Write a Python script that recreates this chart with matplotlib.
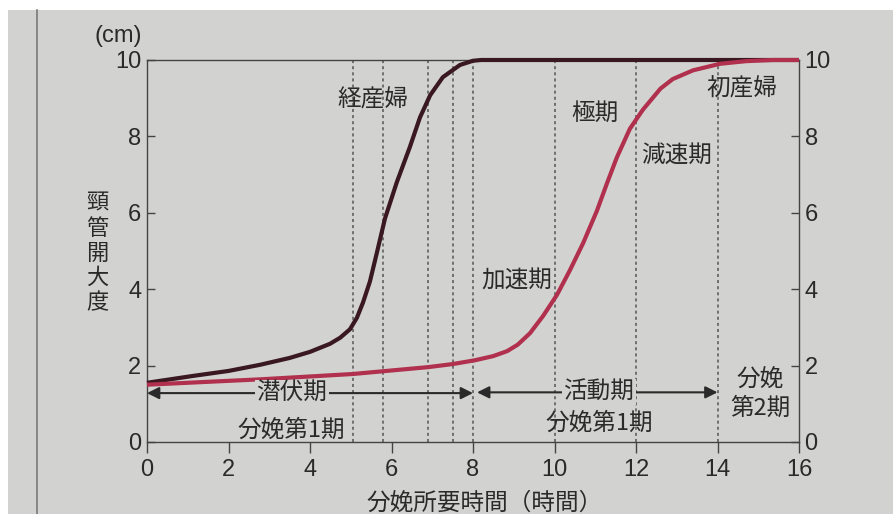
import numpy as np
import matplotlib
matplotlib.use("Agg")
import matplotlib.pyplot as plt
from matplotlib.patches import Rectangle
from matplotlib.lines import Line2D

plt.rcParams['font.family'] = ['Liberation Sans', 'Noto Sans CJK JP', 'DejaVu Sans']
JP = ['Noto Sans CJK JP', 'DejaVu Sans']

# 経産婦 (multipara) cervical dilatation curve
multi_t = [0, 1.13, 2.0, 2.77, 3.5, 4.0, 4.49, 4.74, 4.98, 5.15, 5.3, 5.47, 5.64,
           5.84, 6.13, 6.45, 6.7, 6.95, 7.26, 7.68, 8.0, 8.2, 16]
multi_cm = [1.55, 1.73, 1.86, 2.02, 2.2, 2.36, 2.57, 2.73, 2.95, 3.25, 3.65, 4.2, 4.95,
            5.85, 6.8, 7.72, 8.5, 9.08, 9.55, 9.87, 9.98, 10.0, 10.0]

# 初産婦 (primipara)
primi_t = [0, 2.77, 5.05, 6.9, 7.5, 8.05, 8.5, 8.84, 9.1, 9.4, 9.72, 10.06, 10.38,
           10.7, 11.04, 11.28, 11.53, 11.85, 12.17, 12.6, 12.9, 13.4, 14.06, 14.7,
           15.36, 16]
primi_cm = [1.5, 1.64, 1.78, 1.96, 2.04, 2.14, 2.25, 2.38, 2.55, 2.85, 3.3, 3.85, 4.5,
            5.2, 6.05, 6.75, 7.45, 8.2, 8.7, 9.25, 9.5, 9.73, 9.9, 9.97, 10.0, 10.0]

# phase boundaries (dotted verticals)
phase_lines = [5.05, 5.8, 6.9, 7.5, 8.0, 10.0, 12.0, 14.0]

xticks = list(range(0, 17, 2))
yticks = list(range(0, 11, 2))

paper = '#d2d3d0'
ink = '#2a2a2a'

fig = plt.figure(figsize=(8.93, 5.14), dpi=100, facecolor=paper)
ax = fig.add_axes([147 / 893, 1 - 442 / 514, 652 / 893, 382 / 514])
ax.set_facecolor(paper)

# photo edges
fig.patches.append(Rectangle((0, 1 - 10 / 514), 1, 10 / 514, transform=fig.transFigure,
                             facecolor='white', edgecolor='none', zorder=-5))
fig.patches.append(Rectangle((0, 0), 8 / 893, 1, transform=fig.transFigure,
                             facecolor='white', edgecolor='none', zorder=-5))
fig.lines.append(Line2D([37 / 893, 37 / 893], [0, 1 - 10 / 514], transform=fig.transFigure,
                        color='#7a7a7a', lw=1.2))

for x in phase_lines:
    ax.plot([x, x], [0, 10], color='#555555', lw=1.1, ls=(0, (2, 2)), zorder=1)

ax.plot(multi_t, multi_cm, color='#3a1822', lw=3, clip_on=False, zorder=3,
        solid_capstyle='butt', solid_joinstyle='round')
ax.plot(primi_t, primi_cm, color='#b0304e', lw=3, clip_on=False, zorder=4,
        solid_capstyle='butt', solid_joinstyle='round')

ax.set_xlim(0, 16)
ax.set_ylim(0, 10)
ax.set_xticks(xticks)
ax.set_yticks(yticks)
for s in ax.spines.values():
    s.set_color('#444444')
    s.set_linewidth(1.0)
ax.tick_params(axis='x', direction='out', length=8, width=1, color='#444444',
               labelsize=17, labelcolor=ink, pad=4)
ax.tick_params(axis='y', direction='in', length=6, width=1, color='#444444',
               labelsize=17, labelcolor=ink, pad=4, left=True, right=True,
               labelleft=True, labelright=True)

# arrows for phases
arrow_kw = dict(arrowstyle='-|>', color=ink, lw=1.5, mutation_scale=18,
                shrinkA=0, shrinkB=0)
ax.annotate('', xy=(0, 1.28), xytext=(4, 1.28), arrowprops=arrow_kw)
ax.annotate('', xy=(8.0, 1.28), xytext=(4, 1.28), arrowprops=arrow_kw)
ax.annotate('', xy=(8.1, 1.3), xytext=(11, 1.3), arrowprops=arrow_kw)
ax.annotate('', xy=(14.0, 1.3), xytext=(11, 1.3), arrowprops=arrow_kw)

box = dict(facecolor=paper, edgecolor='none', pad=1)
tkw = dict(family=JP, fontsize=17, color=ink, ha='center', va='center')
ax.text(3.55, 1.28, '潜伏期', bbox=box, zorder=5, **tkw)
ax.text(11.1, 1.3, '活動期', bbox=box, zorder=5, **tkw)
ax.text(3.55, 0.32, '分娩第1期', **tkw)
ax.text(11.1, 0.48, '分娩第1期', **tkw)
ax.text(15.05, 1.25, '分娩\n第2期', linespacing=1.3, **tkw)

ax.text(5.55, 8.95, '経産婦', **tkw)
ax.text(14.6, 9.25, '初産婦', **tkw)
ax.text(11.0, 8.6, '極期', **tkw)
ax.text(13.0, 7.5, '減速期', **tkw)
ax.text(9.07, 4.2, '加速期', **tkw)

fig.text(118 / 893, 1 - 36 / 514, '(cm)', fontsize=17, color=ink, ha='center', va='center')
fig.text(97 / 893, 1 - 253 / 514, '頸\n管\n開\n大\n度', family=JP, fontsize=16,
         color=ink, ha='center', va='center', linespacing=1.1)
fig.text(485 / 893, 1 - 503 / 514, '分娩所要時間（時間）', family=JP, fontsize=17,
         color=ink, ha='center', va='center')

fig.savefig('out.png', dpi=100, facecolor=paper)
